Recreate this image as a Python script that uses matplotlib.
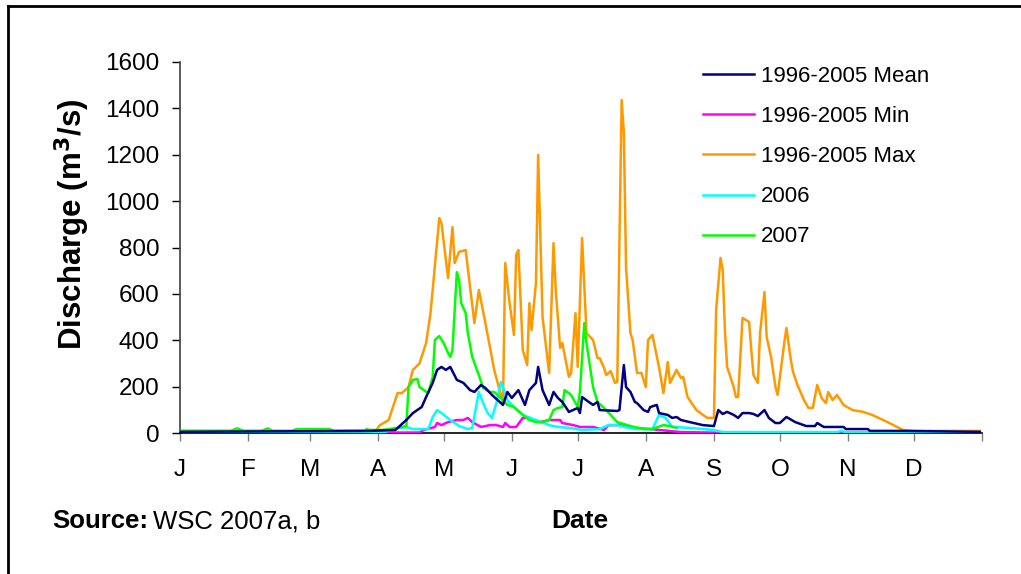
import matplotlib
matplotlib.use("Agg")
import matplotlib.pyplot as plt
from matplotlib.lines import Line2D

plt.rcParams['font.family'] = ['Liberation Sans', 'DejaVu Sans']

# day of year (0-365) and discharge (m3/s)
max_days = [0, 89, 91, 95, 96, 99, 101, 104, 106, 109, 112, 114, 115, 118, 119, 122, 124, 125,
            127, 130, 134, 136, 139, 143, 147, 148, 150, 152, 153, 154, 156, 158, 159, 160, 162,
            163, 165, 168, 170, 171, 173, 174, 177, 178, 180, 181, 183, 185, 188, 190, 191, 193,
            194, 196, 198, 199, 201, 202, 203, 205, 206, 208, 210, 212, 213, 215, 218, 220, 222,
            223, 226, 228, 229, 231, 235, 238, 240, 243, 244, 246, 247, 248, 249, 252, 253, 254,
            256, 259, 260, 261, 263, 264, 266, 267, 269, 271, 272, 275, 276, 278, 279, 281, 284,
            286, 288, 290, 292, 294, 295, 297, 299, 302, 306, 311, 315, 322, 329, 334, 364]
max_vals = [9, 9, 34, 56, 86, 172, 172, 198, 272, 300, 388, 517, 617, 927, 905, 668, 888, 733,
            781, 789, 474, 617, 474, 272, 129, 733, 560, 423, 768, 789, 358, 293, 560, 444, 647,
            1199, 500, 259, 819, 617, 367, 388, 242, 259, 517, 285, 841, 431, 401, 323, 323, 280,
            250, 267, 216, 220, 1436, 1294, 716, 431, 401, 259, 259, 198, 401, 423, 285, 172, 306,
            216, 272, 237, 242, 155, 99, 78, 65, 65, 531, 755, 703, 444, 285, 198, 155, 155,
            496, 479, 358, 250, 216, 431, 608, 414, 328, 198, 164, 388, 453, 315, 263, 207, 142,
            108, 108, 207, 151, 129, 177, 142, 164, 121, 99, 91, 78, 47, 13, 9, 9]

mean_days = [0, 86, 98, 103, 106, 110, 112, 115, 117, 119, 121, 123, 126, 129, 132, 134, 137,
             139, 142, 147, 149, 151, 154, 157, 159, 162, 163, 165, 168, 170, 172, 174, 177, 181,
             182, 183, 186, 188, 190, 191, 199, 200, 202, 203, 205, 207, 208, 211, 213, 214, 217,
             218, 222, 224, 226, 228, 232, 238, 243, 245, 247, 249, 252, 254, 256, 259, 261, 263,
             266, 268, 271, 273, 276, 280, 285, 289, 290, 293, 302, 303, 313, 314, 329, 364]
mean_vals = [5, 9, 13, 56, 86, 112, 155, 216, 272, 285, 272, 285, 229, 216, 185, 177, 207,
             194, 164, 121, 177, 151, 185, 121, 185, 216, 285, 185, 121, 177, 151, 134, 91, 108,
             86, 155, 134, 121, 134, 99, 95, 99, 293, 198, 177, 134, 129, 99, 91, 112, 121,
             86, 78, 65, 69, 56, 47, 34, 30, 99, 82, 91, 78, 65, 86, 86, 82, 73,
             99, 65, 43, 43, 69, 47, 30, 30, 43, 26, 26, 17, 17, 9, 9, 5]

min_days = [0, 109, 111, 116, 117, 119, 122, 126, 129, 131, 133, 137, 141, 144, 147, 148, 150,
            153, 156, 158, 161, 164, 168, 173, 174, 179, 182, 188, 193, 195, 201, 205, 214, 228,
            247, 364]
min_vals = [2, 2, 13, 26, 43, 34, 47, 56, 56, 65, 47, 26, 34, 34, 26, 43, 26,
            26, 65, 65, 56, 47, 56, 56, 43, 34, 26, 26, 13, 34, 34, 22, 17, 4,
            1, 1]

y2006_days = [0, 93, 96, 100, 103, 106, 113, 115, 117, 119, 123, 127, 131, 133, 136, 138, 140,
              142, 144, 146, 147, 149, 152, 156, 162, 168, 172, 177, 183, 191, 195, 199, 202,
              208, 215, 218, 221, 224, 232, 238, 243, 247, 299, 301, 303, 364]
y2006_vals = [3, 3, 13, 22, 26, 17, 17, 69, 99, 86, 56, 30, 17, 22, 177, 129, 86,
              65, 129, 220, 198, 142, 112, 78, 56, 34, 26, 22, 13, 17, 34, 34, 26,
              17, 17, 78, 65, 26, 22, 17, 13, 4, 4, 9, 3, 2]

y2007_days = [0, 23, 26, 29, 37, 40, 42, 51, 53, 68, 70, 84, 85, 86, 92, 99, 103, 104, 106,
              108, 109, 111, 113, 115, 116, 118, 120, 122, 123, 124, 126, 127, 128, 130, 131,
              133, 136, 138, 141, 143, 147, 149, 152, 156, 159, 162, 165, 168, 170, 172, 174,
              175, 177, 178, 181, 182, 184, 185, 188, 190, 193, 196, 199, 205, 211, 215, 220,
              223, 226]
y2007_vals = [9, 9, 20, 9, 9, 20, 9, 9, 17, 17, 9, 9, 17, 13, 13, 22, 30, 198, 229,
              233, 198, 185, 172, 242, 401, 418, 388, 345, 328, 358, 694, 660, 560, 517, 431,
              328, 250, 194, 177, 177, 142, 121, 112, 78, 56, 47, 47, 56, 99, 108, 112,
              185, 172, 164, 112, 177, 474, 388, 198, 134, 108, 78, 47, 30, 17, 17, 34,
              30, 22]

month_starts = [0, 31, 59, 90, 120, 151, 181, 212, 243, 273, 304, 334, 365]
month_labels = ['J', 'F', 'M', 'A', 'M', 'J', 'J', 'A', 'S', 'O', 'N', 'D', '']

fig = plt.figure(figsize=(10.21, 5.74), dpi=100)
ax = fig.add_axes([180 / 1021, 1 - 433 / 574, 802 / 1021, 371 / 574])

lw = 1.8
ax.plot(mean_days, mean_vals, color='#000080', lw=lw, label='1996-2005 Mean', zorder=5)
ax.plot(min_days, min_vals, color='#FF00FF', lw=lw, label='1996-2005 Min', zorder=3)
ax.plot(max_days, max_vals, color='#FF9900', lw=lw, label='1996-2005 Max', zorder=2)
ax.plot(y2006_days, y2006_vals, color='#00FFFF', lw=lw, label='2006', zorder=4)
ax.plot(y2007_days, y2007_vals, color='#00FF00', lw=lw, label='2007', zorder=4)

ax.set_xlim(0, 365)
ax.set_ylim(0, 1600)
ax.set_yticks(range(0, 1601, 200))
ax.set_xticks(month_starts)
ax.set_xticklabels(month_labels)
ax.tick_params(axis='y', direction='out', length=6, width=1, pad=9, labelsize=17.5)
ax.tick_params(axis='x', direction='out', length=6, width=1, pad=13, labelsize=17.5,
               color='#808080')
for s in ['top', 'right']:
    ax.spines[s].set_visible(False)
ax.spines['bottom'].set_linewidth(1.2)
ax.spines['left'].set_linewidth(1.2)
ax.spines['left'].set_color('#404040')

ax.legend(loc='upper left', bbox_to_anchor=(703 / 1021, 1 - 66 / 574),
          bbox_transform=fig.transFigure, frameon=False, fontsize=16,
          handlelength=2.3, handletextpad=0.3, labelspacing=0.86,
          borderpad=0, borderaxespad=0)

fig.text(72 / 1021, 1 - 224 / 574, 'Discharge (m$^{\\mathbf{3}}$/s)', rotation=90,
         ha='center', va='center', fontsize=22.5, fontweight='bold')
fig.text(580 / 1021, 1 - 521 / 574, 'Date', ha='center', va='center',
         fontsize=19, fontweight='bold')
src = fig.text(52 / 1021, 1 - 521 / 574, 'Source:', ha='left', va='center',
               fontsize=18.5, fontweight='bold')
fig.canvas.draw()
bb = src.get_window_extent()
fig.text(bb.x1 / 1021 + 5 / 1021, 1 - 521 / 574, 'WSC 2007a, b', ha='left', va='center',
         fontsize=18.5)

# outer frame (top and left edges visible)
fig.add_artist(Line2D([8 / 1021, 8 / 1021], [0, 1 - 6 / 574], color='black', lw=2,
                      transform=fig.transFigure))
fig.add_artist(Line2D([8 / 1021, 1], [1 - 6 / 574, 1 - 6 / 574], color='black', lw=2,
                      transform=fig.transFigure))

fig.savefig('out.png', dpi=100)
